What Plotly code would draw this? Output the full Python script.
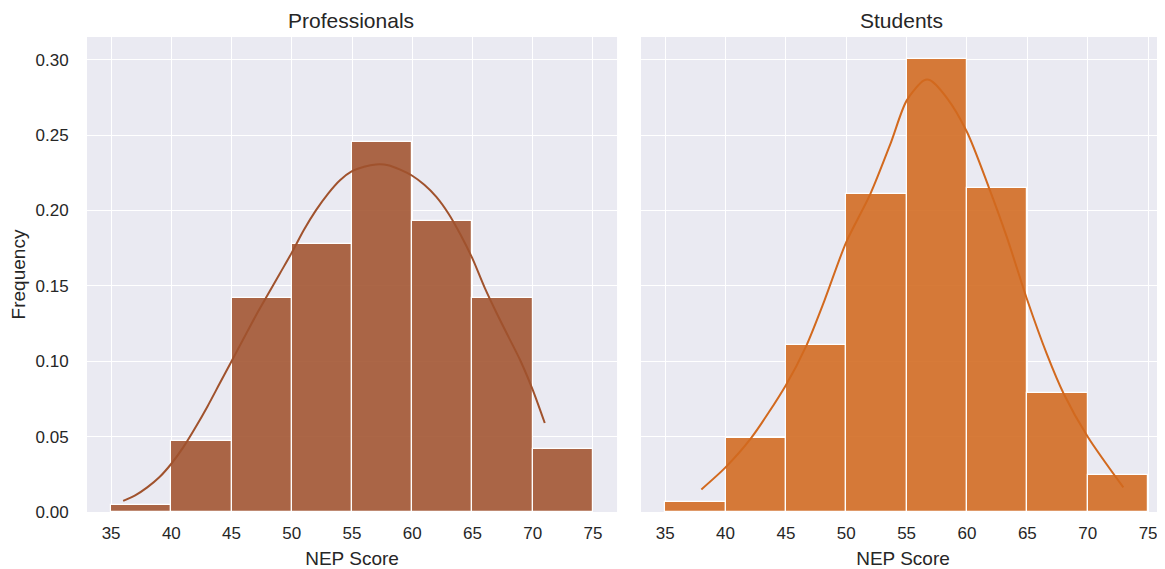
import plotly.graph_objects as go
from plotly.subplots import make_subplots

# ---- data ----
bin_left = [35, 40, 45, 50, 55, 60, 65, 70]
bin_width = 5

prof_freq = [0.0047, 0.047, 0.1417, 0.178, 0.2457, 0.193, 0.1417, 0.0417]
stud_freq = [0.0067, 0.0493, 0.111, 0.211, 0.3007, 0.215, 0.0787, 0.0244]

prof_kde_x = [36, 37, 38, 39, 40, 41, 42, 43, 44, 45, 46, 47, 48, 49, 50, 51, 52, 53,
              54, 55, 56, 57, 58, 59, 60, 61, 62, 63, 64, 65, 66, 67, 68, 69, 70, 71]
prof_kde_y = [0.0074, 0.011, 0.0163, 0.023, 0.032, 0.043, 0.056, 0.070, 0.085, 0.100,
              0.115, 0.130, 0.144, 0.158, 0.172, 0.187, 0.200, 0.211, 0.220, 0.226,
              0.229, 0.2305, 0.230, 0.227, 0.223, 0.217, 0.209, 0.198, 0.184, 0.168,
              0.149, 0.132, 0.116, 0.100, 0.081, 0.059]

stud_kde_x = [38, 40, 42.1, 45, 46.65, 48.2, 50, 52, 53.7, 55, 56.4, 56.9, 58.3, 60,
              61.8, 63.3, 65, 66.6, 68, 70, 72.95]
stud_kde_y = [0.015, 0.0296, 0.0488, 0.0841, 0.1095, 0.1404, 0.179, 0.211, 0.245,
              0.2728, 0.286, 0.2865, 0.275, 0.252, 0.2155, 0.1823, 0.1404, 0.105,
              0.0786, 0.0499, 0.0163]

panel_titles = ["Professionals", "Students"]
x_ticks = [35, 40, 45, 50, 55, 60, 65, 70, 75]
y_ticks = [0.0, 0.05, 0.10, 0.15, 0.20, 0.25, 0.30]

# ---- styles ----
BG = "#EAEAF2"
FONT = "Liberation Sans, Arial, sans-serif"
TXT = "#262626"
prof_bar, prof_line = "rgba(160,82,45,0.88)", "#a0522d"
stud_bar, stud_line = "rgba(210,105,30,0.88)", "#d2691e"

fig = make_subplots(rows=1, cols=2, shared_yaxes=True, horizontal_spacing=0.0222,
                    subplot_titles=panel_titles)

for col, (freq, bc, kx, ky, lc) in enumerate(
        [(prof_freq, prof_bar, prof_kde_x, prof_kde_y, prof_line),
         (stud_freq, stud_bar, stud_kde_x, stud_kde_y, stud_line)], start=1):
    fig.add_trace(go.Bar(x=bin_left, y=freq, width=bin_width, offset=0,
                         marker=dict(color=bc, line=dict(color="white", width=1.2)),
                         showlegend=False, hoverinfo="x+y"), row=1, col=col)
    fig.add_trace(go.Scatter(x=kx, y=ky, mode="lines",
                             line=dict(color=lc, width=2, shape="spline", smoothing=0.8),
                             showlegend=False), row=1, col=col)

axis_common = dict(showgrid=True, gridcolor="white", gridwidth=1.3, zeroline=False,
                   showline=False, automargin=False,
                   tickfont=dict(family=FONT, size=17, color=TXT))

fig.update_xaxes(**axis_common, tickvals=x_ticks, ticks="outside", ticklen=6,
                 tickcolor="rgba(0,0,0,0)",
                 title=dict(text="NEP Score", font=dict(family=FONT, size=19, color=TXT),
                            standoff=9))
fig.update_xaxes(range=[33, 77], domain=[0, 0.4917], row=1, col=1)
fig.update_xaxes(range=[33, 76.4], domain=[0.5139, 1.0], row=1, col=2)

fig.update_yaxes(**axis_common, tickvals=y_ticks, tickformat=".2f", range=[0, 0.315],
                 ticks="outside", ticklen=14, tickcolor="rgba(0,0,0,0)")
fig.update_yaxes(title=dict(text="Frequency", font=dict(family=FONT, size=19, color=TXT),
                            standoff=8), row=1, col=1)
fig.update_yaxes(showticklabels=False, row=1, col=2)

for ann in fig.layout.annotations:
    ann.font = dict(family=FONT, size=21, color=TXT)
    ann.yshift = 3

fig.update_layout(width=1157, height=561, plot_bgcolor=BG, paper_bgcolor="white",
                  margin=dict(l=79, r=0, t=29, b=57), bargap=0,
                  font=dict(family=FONT, color=TXT))

fig.write_html("out.html")
